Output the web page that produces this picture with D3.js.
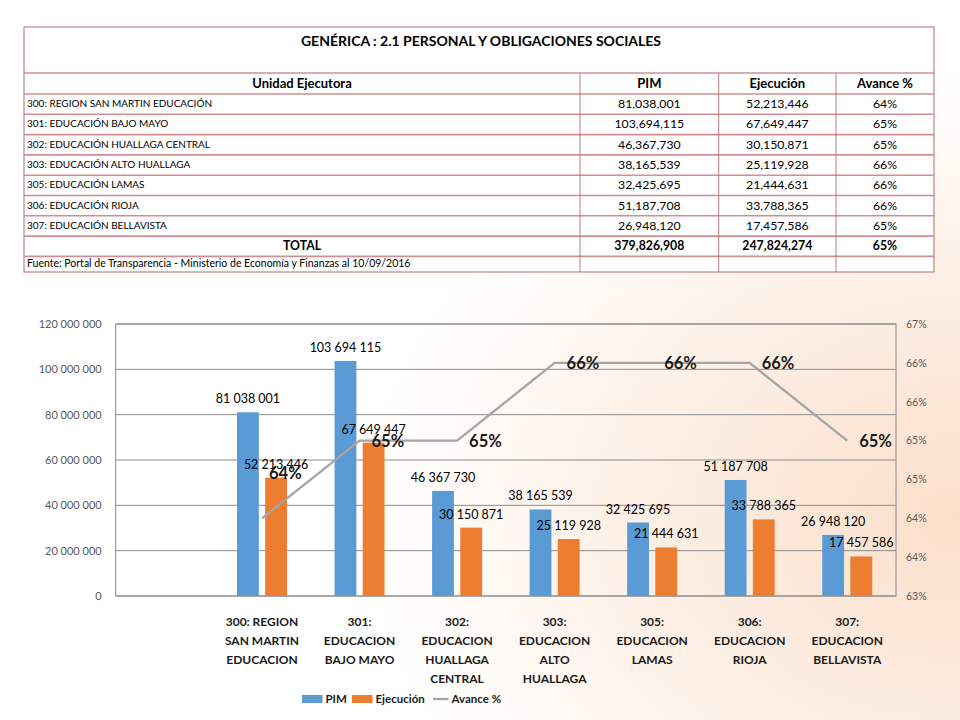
<!DOCTYPE html>
<html lang="es">
<head>
<meta charset="UTF-8">
<title>Genérica 2.1 Personal y Obligaciones Sociales</title>
<script src="https://d3js.org/d3.v7.min.js"></script>
<style>
    body { margin: 0; background: #fff; }
    svg { display: block; font-family: Lato, "Open Sans", sans-serif; }
</style>
</head>
<body>
<script>
// ---- data ----
const tableTitle = 'GENÉRICA : 2.1 PERSONAL Y OBLIGACIONES SOCIALES';
const tableHeaders = ['Unidad Ejecutora', 'PIM', 'Ejecución', 'Avance %'];
const unitNames = [
    '300: REGION SAN MARTIN EDUCACIÓN',
    '301: EDUCACIÓN BAJO MAYO',
    '302: EDUCACIÓN HUALLAGA CENTRAL',
    '303: EDUCACIÓN ALTO HUALLAGA',
    '305: EDUCACIÓN LAMAS',
    '306: EDUCACIÓN RIOJA',
    '307: EDUCACIÓN BELLAVISTA'
];
const chartCategories = [
    ['300: REGION', 'SAN MARTIN', 'EDUCACION'],
    ['301:', 'EDUCACION', 'BAJO MAYO'],
    ['302:', 'EDUCACION', 'HUALLAGA', 'CENTRAL'],
    ['303:', 'EDUCACION', 'ALTO', 'HUALLAGA'],
    ['305:', 'EDUCACION', 'LAMAS'],
    ['306:', 'EDUCACION', 'RIOJA'],
    ['307:', 'EDUCACION', 'BELLAVISTA']
];
const pim = [81038001, 103694115, 46367730, 38165539, 32425695, 51187708, 26948120];
const ejecucion = [52213446, 67649447, 30150871, 25119928, 21444631, 33788365, 17457586];
const avance = [0.64, 0.65, 0.65, 0.66, 0.66, 0.66, 0.65];
const totalPim = 379826908;
const totalEjecucion = 247824274;
const totalAvance = 0.65;
const sourceNote = 'Fuente: Portal de Transparencia - Ministerio de Economía y Finanzas al 10/09/2016';
const leftTicks = [0, 20e6, 40e6, 60e6, 80e6, 100e6, 120e6];
const rightTicksPermil = [630, 635, 640, 645, 650, 655, 660, 665];
const seriesNames = ['PIM', 'Ejecución', 'Avance %'];

const width = 960, height = 720;
const blue = '#5b9bd5', orange = '#ed7d31', gray = '#a5a5a5';

const svg = d3.select('body').append('svg')
    .attr('width', width)
    .attr('height', height);

// background glow at the right
const defs = svg.append('defs');
const grad = defs.append('radialGradient')
    .attr('id', 'bg')
    .attr('cx', '100%').attr('cy', '72%').attr('r', '62%');
grad.append('stop').attr('offset', '0%').attr('stop-color', '#fbdfca');
grad.append('stop').attr('offset', '55%').attr('stop-color', '#fdf0e6');
grad.append('stop').attr('offset', '100%').attr('stop-color', '#ffffff');
svg.append('rect').attr('width', width).attr('height', height).attr('fill', 'url(#bg)');

// ---- table ----
const fmtComma = d3.format(',');
const pct = v => Math.round(v * 100) + '%';

const tbl = svg.append('g');
const colX = [24, 580, 718.7, 836, 934];
const titleTop = 27, headerTop = 73, rowH = 20.3;
const rowTops = d3.range(10).map(i => headerTop + 0.7 + i * rowH); // header + 7 rows + total + note
const tableBottom = 272;

tbl.append('rect')
    .attr('x', colX[0]).attr('y', titleTop)
    .attr('width', colX[4] - colX[0]).attr('height', tableBottom - titleTop)
    .attr('fill', '#fff').attr('stroke', '#b56a6d').attr('stroke-width', 1);

// row separators
[headerTop].concat(rowTops.slice(1)).forEach(y => {
    tbl.append('line')
        .attr('x1', colX[0]).attr('x2', colX[4])
        .attr('y1', y).attr('y2', y)
        .attr('stroke', '#cf8f92').attr('stroke-width', 1.6);
});
// column separators
colX.slice(1, 4).forEach(x => {
    tbl.append('line')
        .attr('x1', x).attr('x2', x)
        .attr('y1', headerTop).attr('y2', tableBottom)
        .attr('stroke', '#c07a7d').attr('stroke-width', 1);
});

tbl.append('text')
    .attr('x', 481).attr('y', 46)
    .attr('text-anchor', 'middle')
    .style('font-size', '14px').style('font-weight', 'bold')
    .text(tableTitle);

const colCenter = i => (colX[i] + colX[i + 1]) / 2;
const rowMid = i => rowTops[i] + rowH / 2 + 4;

tableHeaders.forEach((h, i) => {
    tbl.append('text')
        .attr('x', colCenter(i)).attr('y', rowMid(0))
        .attr('text-anchor', 'middle')
        .style('font-size', '13px').style('font-weight', 'bold')
        .text(h);
});

unitNames.forEach((name, r) => {
    const y = rowMid(r + 1);
    tbl.append('text').attr('x', 27).attr('y', y - 1)
        .style('font-size', '10px').text(name);
    [fmtComma(pim[r]), fmtComma(ejecucion[r]), pct(avance[r])].forEach((v, c) => {
        tbl.append('text').attr('x', colCenter(c + 1)).attr('y', y)
            .attr('text-anchor', 'middle')
            .style('font-size', '12.3px').text(v);
    });
});

['TOTAL', fmtComma(totalPim), fmtComma(totalEjecucion), pct(totalAvance)].forEach((v, c) => {
    tbl.append('text').attr('x', colCenter(c)).attr('y', rowMid(8))
        .attr('text-anchor', 'middle')
        .style('font-size', '12.3px').style('font-weight', 'bold').text(v);
});

tbl.append('text').attr('x', 27).attr('y', rowTops[9] + 11)
    .style('font-size', '10.5px').text(sourceNote);

// ---- chart ----
const plot = {left: 115.7, right: 896, top: 324, bottom: 596};

const codes = [''].concat(chartCategories.map(d => d[0]));
const x = d3.scaleBand().domain(codes).range([plot.left, plot.right]).padding(0);
const xSub = d3.scaleBand().domain(['pim', 'ejec']).range([-25, 25]).paddingInner(0.225);
const y = d3.scaleLinear().domain([0, 120e6]).range([plot.bottom, plot.top]);
const y2 = d3.scaleLinear().domain([0.63, 0.665]).range([plot.bottom, plot.top]);

const spaceLocale = d3.formatLocale({decimal: ',', thousands: ' ', grouping: [3], currency: ['', '']});
const fmtSpace = spaceLocale.format(',');

const chart = svg.append('g');

// gridlines
chart.append('g').selectAll('line')
    .data(leftTicks)
    .join('line')
    .attr('x1', plot.left).attr('x2', plot.right)
    .attr('y1', d => y(d)).attr('y2', d => y(d))
    .attr('stroke', '#8c8c8c').attr('stroke-width', 1);

chart.append('rect')
    .attr('x', plot.left).attr('y', plot.top)
    .attr('width', plot.right - plot.left).attr('height', plot.bottom - plot.top)
    .attr('fill', 'none').attr('stroke', '#8c8c8c').attr('stroke-width', 1);

// left axis
const leftAxis = chart.append('g')
    .attr('transform', `translate(${plot.left},0)`)
    .call(d3.axisLeft(y).tickValues(leftTicks).tickSize(0).tickPadding(14).tickFormat(d => d === 0 ? '0' : fmtSpace(d)));
leftAxis.select('.domain').remove();
leftAxis.selectAll('text').style('font-size', '11px').style('font-family', 'Lato, sans-serif').attr('fill', '#595959');

// right axis
const rightAxis = chart.append('g')
    .attr('transform', `translate(${plot.right},0)`)
    .call(d3.axisRight(y2).tickValues(rightTicksPermil.map(t => t / 1000)).tickSize(0).tickPadding(10)
        .tickFormat((d, i) => Math.round(rightTicksPermil[i] / 10) + '%'));
rightAxis.select('.domain').remove();
rightAxis.selectAll('text').style('font-size', '10.5px').style('font-family', 'Lato, sans-serif').attr('fill', '#595959');

const rows = chartCategories.map((c, i) => ({code: c[0], lines: c, pim: pim[i], ejec: ejecucion[i], avance: avance[i]}));
const cx = d => x(d.code) + x.bandwidth() / 2;

// bars
chart.append('g').selectAll('rect')
    .data(rows)
    .join('rect')
    .attr('x', d => cx(d) + xSub('pim'))
    .attr('width', xSub.bandwidth())
    .attr('y', d => y(d.pim))
    .attr('height', d => plot.bottom - y(d.pim))
    .attr('fill', blue);

chart.append('g').selectAll('rect')
    .data(rows)
    .join('rect')
    .attr('x', d => cx(d) + xSub('ejec'))
    .attr('width', xSub.bandwidth())
    .attr('y', d => y(d.ejec))
    .attr('height', d => plot.bottom - y(d.ejec))
    .attr('fill', orange);

// line
const line = d3.line().x(d => cx(d)).y(d => y2(d.avance));
chart.append('path')
    .datum(rows)
    .attr('d', line)
    .attr('fill', 'none')
    .attr('stroke', gray)
    .attr('stroke-width', 2.3);

// bar value labels
chart.append('g').selectAll('text')
    .data(rows)
    .join('text')
    .attr('x', d => cx(d) + xSub('pim') + xSub.bandwidth() / 2)
    .attr('y', d => y(d.pim) - 9)
    .attr('text-anchor', 'middle')
    .style('font-size', '12.5px')
    .attr('fill', '#000')
    .text(d => fmtSpace(d.pim));

chart.append('g').selectAll('text')
    .data(rows)
    .join('text')
    .attr('x', d => cx(d) + xSub('ejec') + xSub.bandwidth() / 2)
    .attr('y', d => y(d.ejec) - 9)
    .attr('text-anchor', 'middle')
    .style('font-size', '12.5px')
    .attr('fill', '#000')
    .text(d => fmtSpace(d.ejec));

// line value labels (the first one was moved up in the original)
chart.append('g').selectAll('text')
    .data(rows)
    .join('text')
    .attr('x', (d, i) => cx(d) + (i === 0 ? 7 : 12))
    .attr('y', (d, i) => y2(d.avance) + (i === 0 ? -45 : 0))
    .attr('dy', '0.36em')
    .style('font-size', '16.5px')
    .style('font-weight', 'bold')
    .attr('fill', '#1a1a1a')
    .text(d => pct(d.avance));

// category labels
const catG = chart.append('g').selectAll('text')
    .data(rows)
    .join('text')
    .attr('text-anchor', 'middle')
    .style('font-size', '12px')
    .style('font-weight', 'bold')
    .attr('fill', '#1a1a1a');
catG.selectAll('tspan')
    .data(d => d.lines.map(l => ({l, d})))
    .join('tspan')
    .attr('x', t => cx(t.d))
    .attr('y', (t, i) => 625.5 + i * 19)
    .text(t => t.l);

// legend
const legend = chart.append('g').attr('transform', 'translate(0,699)');
const legendItems = [
    {name: seriesNames[0], color: blue, x: 302, type: 'rect'},
    {name: seriesNames[1], color: orange, x: 352, type: 'rect'},
    {name: seriesNames[2], color: gray, x: 433, type: 'line'}
];
legendItems.forEach(it => {
    if (it.type === 'rect') {
        legend.append('rect').attr('x', it.x).attr('y', -4).attr('width', 20.5).attr('height', 8).attr('fill', it.color);
    } else {
        legend.append('line').attr('x1', it.x).attr('x2', it.x + 15.5).attr('y1', 0).attr('y2', 0)
            .attr('stroke', it.color).attr('stroke-width', 2.3);
    }
    legend.append('text')
        .attr('x', it.x + (it.type === 'rect' ? 23.5 : 18.5))
        .attr('dy', '0.36em')
        .style('font-size', '11.5px')
        .style('font-weight', 'bold')
        .attr('fill', '#1a1a1a')
        .text(it.name);
});
</script>
</body>
</html>
